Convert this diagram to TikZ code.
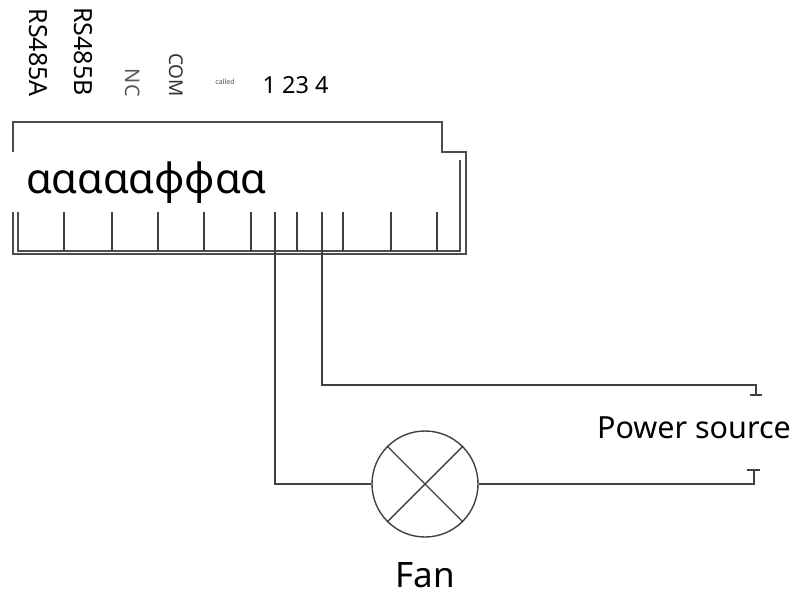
\documentclass[tikz,border=0pt]{standalone}
\usepackage{fontspec}
\setmainfont{Noto Sans}
\usepackage{tikz}
\usetikzlibrary{positioning}
\usetikzlibrary{calc}
\tikzset{wire/.style={line width=1.6pt,draw=black!70},thinwire/.style={line width=1.4pt,draw=black!75},
vlabel/.style={rotate=-90,anchor=east,inner sep=0pt}}
\begin{document}
\begin{tikzpicture}[x=1pt,y=-1pt]
\useasboundingbox (0,0) rectangle (794,596);
\node (rsa) [vlabel,font=\fontsize{25}{25}\selectfont] at (38,97) {RS485A};
\node (rsb) [vlabel,font=\fontsize{25}{25}\selectfont] at (83,96) {RS485B};
\node (nc) [vlabel,font=\fontsize{20}{20}\selectfont,text=black!65] at (133,97) {NC};
\node (com) [vlabel,font=\fontsize{19}{19}\selectfont,text=black!80] at (176,97) {COM};
\node (called) [inner sep=0pt,font=\fontsize{7}{7}\selectfont,text=black!70] at (225,82) {called};
\node (num) [inner sep=0pt,font=\fontsize{23.5}{23.5}\selectfont] at (295.5,85) {1 23 4};
\node (sym) [inner sep=0pt,font=\fontsize{41.8}{42}\selectfont] at (146.5,183) {αααααφφαα};

% housing
\draw[wire] (13,152) |- (442,122) |- (466,152) |- (13,254) -- (13,212);
\draw[wire] (18,212) |- (460,251) -- (460,160);
\foreach \x in {64,112,158,204,251,297,343,391,437}
  \draw[thinwire] (\x,212) -- (\x,251);

\node (fan) [circle,minimum size=106pt,inner sep=0pt,thinwire] at (425,484) {};
\draw[thinwire] (fan.45) -- (fan.225);
\draw[thinwire] (fan.135) -- (fan.315);
\node (fanlabel) [inner sep=0pt,font=\fontsize{35}{35}\selectfont] at (425.5,575) {Fan};
\node (power) [inner sep=0pt,font=\fontsize{30.5}{30.5}\selectfont] at (694,428) {Power source};

\coordinate (t3) at (275,212);
\coordinate (t4) at (322,212);
\coordinate (p1) at (756,395);
\coordinate (p2) at (754,470);
\draw[thinwire] (t3) |- (fan.west);
\draw[thinwire] (t4) |- (p1 |- 0,385) -- (p1);
\draw[thinwire] (fan.east) -| (p2);
\draw[thinwire] (750,395) -- (762,395);
\draw[thinwire] (747,470) -- (760,470);
\end{tikzpicture}
\end{document}
